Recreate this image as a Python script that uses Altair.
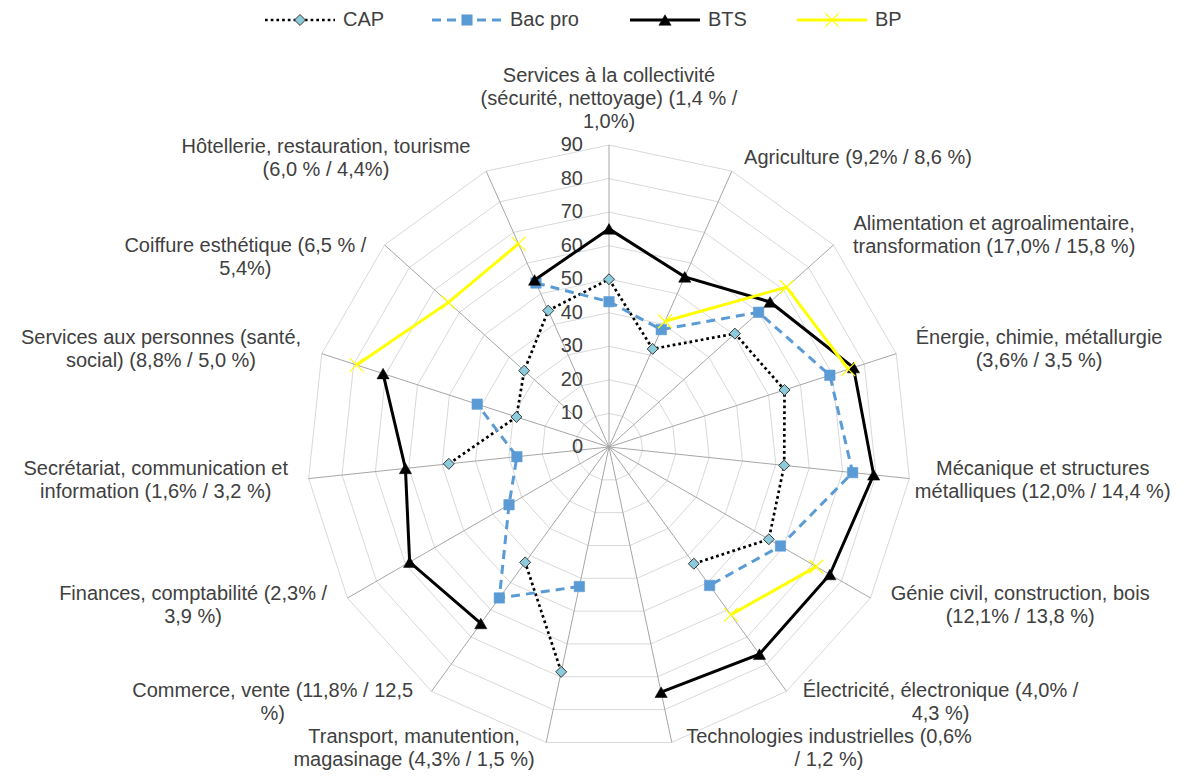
import math
import altair as alt
import pandas as pd

# ---------------- data ----------------
categories = [
    "Services à la collectivité\n(sécurité, nettoyage) (1,4 % /\n1,0%)",
    "Agriculture (9,2% / 8,6 %)",
    "Alimentation et agroalimentaire,\ntransformation (17,0% / 15,8 %)",
    "Énergie, chimie, métallurgie\n(3,6% / 3,5 %)",
    "Mécanique et structures\nmétalliques (12,0% / 14,4 %)",
    "Génie civil, construction, bois\n(12,1% / 13,8 %)",
    "Électricité, électronique (4,0% /\n4,3 %)",
    "Technologies industrielles (0,6%\n/ 1,2 %)",
    "Transport, manutention,\nmagasinage (4,3% / 1,5 %)",
    "Commerce, vente (11,8% / 12,5\n%)",
    "Finances, comptabilité (2,3% /\n3,9 %)",
    "Secrétariat, communication et\ninformation (1,6% / 3,2 %)",
    "Services aux personnes (santé,\nsocial) (8,8% / 5,0 %)",
    "Coiffure esthétique (6,5 % /\n5,4%)",
    "Hôtellerie, restauration, tourisme\n(6,0 % / 4,4%)",
]
series_names = ["CAP", "Bac pro", "BTS", "BP"]
cap = [50, 32, 50.5, 55, 52.5, 55, 43, None, 68.5, 42.5, None, 48, 29, 34, 44.5]
bac_pro = [43.3, 38.3, 60, 69.2, 73, 59, 51, None, 42.5, 55.6, 34.4, 27.6, 41.3, None, 53.5]
bts = [65, 55.5, 64.6, 76.6, 79.3, 76, 76.3, 74.7, None, 65, 68.6, 61, 70.8, None, 54.5]
bp = [None, 41, 71.2, 75, None, 71.3, 61.8, None, None, None, None, None, 79.1, 64.4, 66.3]
tick_values = [0, 10, 20, 30, 40, 50, 60, 70, 80, 90]

# ---------------- layout ----------------
N = len(categories)
R_MAX = 90
W, H = 1182, 762
CX, CY = 601, 439
K = 302 / 90.0
FS = 20
LH = 23
TXT = "#404040"
FONT = "Liberation Sans"

# approximate Arial advance widths (em/1000) used to centre the label blocks
_AW = {" ": 278, "%": 889, "(": 333, ")": 333, ",": 278, ".": 278, "/": 278, "f": 278,
       "i": 222, "j": 222, "l": 222, "t": 278, "r": 333, "c": 500, "k": 500, "s": 500,
       "v": 500, "x": 500, "y": 500, "z": 500, "m": 833, "w": 722, "G": 778, "O": 778,
       "C": 722, "D": 722, "H": 722, "N": 722, "M": 833, "T": 611, "F": 611, "I": 278}
def text_em(s):
    return sum(_AW.get(ch, 556) for ch in s) / 1000.0

xs = alt.Scale(domain=[-CX / K, (W - CX) / K], nice=False, zero=False)
ys = alt.Scale(domain=[-(H - CY) / K, CY / K], nice=False, zero=False)
X = lambda f: alt.X(f, type="quantitative", scale=xs, axis=None)
Y = lambda f: alt.Y(f, type="quantitative", scale=ys, axis=None)

# long table of series values (first category repeated at the end to close the polygon)
rows = []
for name, vals in zip(series_names, [cap, bac_pro, bts, bp]):
    for i in range(N + 1):
        rows.append({"series": name, "idx": i, "value": vals[i % N]})
df_series = pd.DataFrame(rows)

def polar(chart, field="value"):
    return chart.transform_calculate(
        ang=f"datum.idx * 2 * PI / {N}",
    ).transform_calculate(
        px=f"isValid(datum.{field}) ? datum.{field} * sin(datum.ang) : null",
        py=f"isValid(datum.{field}) ? datum.{field} * cos(datum.ang) : null",
    )

# grid rings
ring_rows = [{"level": lv, "idx": i, "value": lv} for lv in tick_values[1:] for i in range(N + 1)]
rings = polar(alt.Chart(pd.DataFrame(ring_rows))).mark_line(
    color="#D9D9D9", strokeWidth=1
).encode(x=X("px"), y=Y("py"), detail="level:N", order="idx:Q")

# spokes
spoke_rows = [{"idx": i, "zero": 0, "value": R_MAX} for i in range(N)]
spokes = polar(alt.Chart(pd.DataFrame(spoke_rows))).mark_rule(
    color="#A6A6A6", strokeWidth=1
).encode(x=X("zero"), y=Y("zero"), x2="px:Q", y2="py:Q")

# tick labels on the top spoke
ticks = alt.Chart(pd.DataFrame({"t": tick_values, "zero": 0})).mark_text(
    align="right", baseline="middle", dx=-26, fontSize=FS, font=FONT, color=TXT
).encode(x=X("zero"), y=Y("t"), text="t:Q")

# category labels (block centred beside the end of each spoke)
nudge = {4: (-16, 0), 7: (0, 8), 8: (0, 8), 13: (0, -22)}  # px (right, up)
lab_rows = []
for i, lab in enumerate(categories):
    a = 2 * math.pi * i / N
    s, c = math.sin(a), math.cos(a)
    lines = lab.split("\n")
    wpx = max(text_em(l) for l in lines) * 21.5
    ex, ey = R_MAX * s * K, R_MAX * c * K
    if abs(s) < 0.1:
        lx, ly = ex, ey + 12 + len(lines) * LH / 2
    else:
        lx = ex + math.copysign(12 * abs(s) + wpx / 2, s)
        ly = ey + 14 * c
    nx, ny = nudge.get(i, (0, 0))
    lx += nx
    ly += ny
    ly += (len(lines) - 1) * LH / 2  # first line position (lines run downward)
    lab_rows.append({"label": lab, "lx": lx / K, "ly": ly / K})
labels = alt.Chart(pd.DataFrame(lab_rows)).mark_text(
    align="center", baseline="middle", lineBreak="\n", lineHeight=LH,
    fontSize=FS, font=FONT, color=TXT
).encode(x=X("lx"), y=Y("ly"), text="label:N")

styles = {
    "CAP": dict(line=dict(color="#000000", strokeWidth=2.7, strokeDash=[2.7, 3]),
                point=dict(shape="diamond", filled=True, fill="#8BCBDC", stroke="#3A3A3A",
                           strokeWidth=1, size=120, opacity=1)),
    "Bac pro": dict(line=dict(color="#5B9BD5", strokeWidth=3, strokeDash=[9, 6]),
                    point=dict(shape="square", filled=True, fill="#5B9BD5", stroke="#5B9BD5",
                               strokeWidth=0.5, size=110, opacity=1)),
    "BTS": dict(line=dict(color="#000000", strokeWidth=3),
                point=dict(shape="triangle-up", filled=True, fill="#000000", stroke="#000000",
                           strokeWidth=0.5, size=150, opacity=1)),
    "BP": dict(line=dict(color="#FFFF00", strokeWidth=3),
               point=dict(shape="M-1,-1L1,1M-1,1L1,-1", filled=False, stroke="#FFFF00",
                          strokeWidth=1.2, size=190, opacity=1)),
}

series_layers = []
for name in series_names:
    base = polar(alt.Chart(df_series).transform_filter(alt.datum.series == name))
    ln = base.mark_line(**styles[name]["line"]).encode(x=X("px"), y=Y("py"), order="idx:Q")
    pt = base.transform_filter(f"isValid(datum.value) && datum.idx < {N}").mark_point(
        **styles[name]["point"]).encode(x=X("px"), y=Y("py"))
    series_layers += [ln, pt]

# legend (top, horizontal)
leg_start = [257, 424, 622, 789]
leg_y = (CY - 12) / K
leg_rows = []
for name, st in zip(series_names, leg_start):
    leg_rows.append({"series": name, "x0": (st - CX) / K, "x1": (st + 70 - CX) / K,
                     "xm": (st + 35 - CX) / K, "xt": (st + 78 - CX) / K, "y": leg_y})
df_leg = pd.DataFrame(leg_rows)
legend_layers = []
for name in series_names:
    b = alt.Chart(df_leg).transform_filter(alt.datum.series == name)
    legend_layers.append(b.mark_rule(**styles[name]["line"]).encode(x=X("x0"), x2="x1:Q", y=Y("y")))
    legend_layers.append(b.mark_point(**styles[name]["point"]).encode(x=X("xm"), y=Y("y")))
    legend_layers.append(b.mark_text(align="left", baseline="middle", fontSize=FS, font=FONT,
                                     color=TXT).encode(x=X("xt"), y=Y("y"), text="series:N"))

chart = alt.layer(rings, spokes, ticks, labels, *series_layers, *legend_layers).properties(
    width=W, height=H, padding=0, autosize=alt.AutoSizeParams(type="none")
).configure_view(stroke=None)

chart.save("out.html", embed_options={"renderer": "svg", "actions": False})
